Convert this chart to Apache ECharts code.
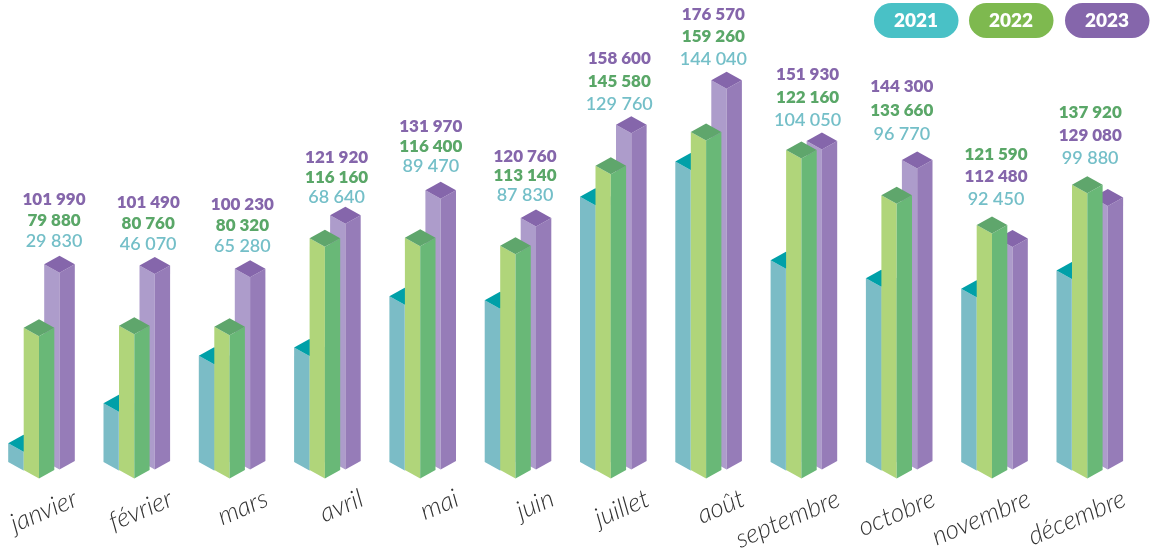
<!DOCTYPE html>
<html><head><meta charset="utf-8">
<style>html,body{margin:0;padding:0;background:#fff}#c{width:1152px;height:557px}</style>
<script src="https://cdn.jsdelivr.net/npm/echarts@6/dist/echarts.min.js"></script>
</head><body><div id="c"></div>
<script>
const months = ['janvier','février','mars','avril','mai','juin','juillet','août','septembre','octobre','novembre','décembre'];
const years = ['2021','2022','2023'];
const values2021 = [29830,46070,65280,68640,89470,87830,129760,144040,104050,96770,92450,99880];
const values2022 = [79880,80760,80320,116160,116400,113140,145580,159260,122160,133660,121590,137920];
const values2023 = [101990,101490,100230,121920,131970,120760,158600,176570,151930,144300,112480,129080];
// The printed September 2022 label is lower than the height actually drawn in the picture.
const drawnHeights2022 = [79880,80760,80320,116160,116400,113140,145580,159260,152000,133660,121590,137920];

// label layout only: gap above the tallest bar and spacing between the stacked labels
const labelGap = [15,13,14,9,16,14,12,13,12,17,17,18];
const labelStep = [20.5,21,21,20,19.5,19.5,23,22,23,24,22.5,23];

const W = 15.3, H = 8.5;
const styles = {
  '2021': {dx:-52.5, dy:-8, left:'#7bbcc6', right:'#7bbcc6', top:'#00a0a8', text:'#74bfc8', font:'600 18px Lato'},
  '2022': {dx:-37, dy:0, left:'#b0d57a', right:'#69b877', top:'#5fa66c', text:'#5aa768', font:'800 17px Lato'},
  '2023': {dx:-16.5, dy:-9, left:'#ad9ccb', right:'#967cb8', top:'#8566ab', text:'#8566ab', font:'800 17px Lato'}
};
const drawn = {'2021':values2021,'2022':drawnHeights2022,'2023':values2023};
const printed = {'2021':values2021,'2022':values2022,'2023':values2023};
const fmt = v => String(v).replace(/(\d{3})$/,' $1');

function renderer(year){
  const s = styles[year];
  return function(params, api){
    const i = api.value(0);
    const base = api.coord([i, 22300]);
    const topP = api.coord([i, api.value(1)]);
    const cx = base[0]+s.dx, yb = base[1]+s.dy, yt = topP[1]+s.dy;
    const poly = (pts,fill)=>({type:'polygon',shape:{points:pts},style:{fill}});
    const children = [
      poly([[cx-W,yt-H],[cx,yt],[cx,yb],[cx-W,yb-H]], s.left),
      poly([[cx,yt],[cx+W,yt-H],[cx+W,yb-H],[cx,yb]], s.right),
      poly([[cx,yt],[cx-W,yt-H],[cx,yt-2*H],[cx+W,yt-H]], s.top)
    ];
    // value labels stacked above the tallest bar of the month, lowest value nearest the bars
    let apex = Infinity;
    years.forEach(y=>{ apex = Math.min(apex, api.coord([i, drawn[y][i]])[1]+styles[y].dy-2*H); });
    const order = years.map(y=>printed[y][i]).sort((a,b)=>a-b);
    const rank = order.indexOf(printed[year][i]);
    children.push({type:'text',style:{
      text: fmt(printed[year][i]),
      x: 54+94.2*i, y: apex-labelGap[i]-rank*labelStep[i],
      fill: s.text, font: s.font, align:'center', verticalAlign:'middle'
    }});
    return {type:'group',children};
  };
}
const mk = y => ({
  type:'custom', name:y, animation:false, clip:false,
  renderItem: renderer(y),
  encode:{x:0,y:1},
  data: drawn[y].map((v,i)=>[i,v])
});
const pillColors = ['#49c1c6','#7eb94f','#8566ab'];
const pillX = [874,969,1065];
const option = {
  animation:false,
  grid:{left:76,top:40,width:1048.3,height:438.4},
  xAxis:{type:'category',data:months,boundaryGap:false,
    axisLine:{show:false},axisTick:{show:false},splitLine:{show:false},
    axisLabel:{interval:0,rotate:23,align:'right',verticalAlign:'middle',margin:19,
      fontFamily:'Lato',fontWeight:300,fontStyle:'italic',fontSize:26,color:'#333'}},
  yAxis:{type:'value',min:22300,max:200000,show:false},
  series:[mk('2023'),mk('2021'),mk('2022')],
  graphic: years.map((y,k)=>({
    type:'group',left:pillX[k],top:3,children:[
      {type:'rect',shape:{x:0,y:0,width:84.5,height:35,r:17.5},style:{fill:pillColors[k]}},
      {type:'text',style:{text:y,x:42,y:18,fill:'#fff',font:'800 19px Lato',align:'center',verticalAlign:'middle'}}
    ]}))
};
echarts.init(document.getElementById('c'),null,{renderer:'canvas'}).setOption(option);
</script></body></html>
